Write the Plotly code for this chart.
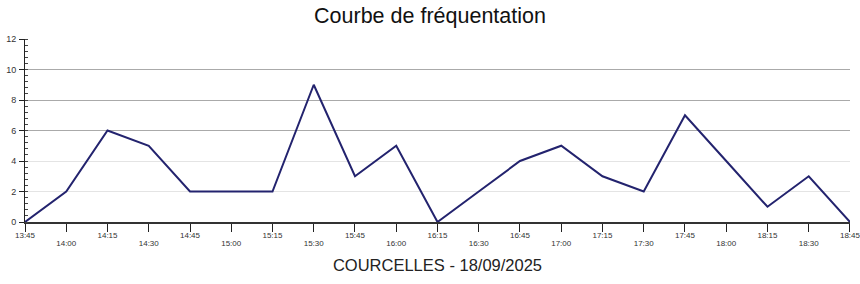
import plotly.graph_objects as go

times = ["13:45", "14:00", "14:15", "14:30", "14:45", "15:00", "15:15", "15:30",
         "15:45", "16:00", "16:15", "16:30", "16:45", "17:00", "17:15", "17:30",
         "17:45", "18:00", "18:15", "18:30", "18:45"]
visits = [0, 2, 6, 5, 2, 2, 2, 9, 3, 5, 0, 2, 4, 5, 3, 2, 7, 4, 1, 3, 0]
y_major = [0, 2, 4, 6, 8, 10, 12]
grid_light = [2, 4, 12]
grid_dark = [6, 8, 10]
title_text = "Courbe de fréquentation"
xlabel_text = "COURCELLES - 18/09/2025"

day = "2025-09-18 "
xs = [day + t for t in times]
odd_x = xs[1::2]
odd_t = times[1::2]
x_range = [xs[0], xs[-1] + ":00.5"]

font = "Liberation Sans, Arial, sans-serif"

fig = go.Figure()
fig.add_trace(go.Scatter(x=[xs[0]], y=[0], xaxis="x2", yaxis="y2", mode="markers",
                         marker=dict(opacity=0), hoverinfo="skip", showlegend=False))
fig.add_trace(go.Scatter(x=[xs[0]], y=[0], xaxis="x", yaxis="y3", mode="markers",
                         marker=dict(opacity=0), hoverinfo="skip", showlegend=False))
fig.add_trace(go.Scatter(x=xs, y=visits, mode="lines",
                         line=dict(color="#23236e", width=2),
                         hoverinfo="x+y", showlegend=False, cliponaxis=False))

fig.update_layout(
    width=860, height=284,
    margin=dict(l=25, r=10, t=39, b=62, autoexpand=False),
    paper_bgcolor="white", plot_bgcolor="white",
    title=dict(text=title_text, x=0.5, xanchor="center", y=0.972, yanchor="top",
               font=dict(family=font, size=21.5, color="#111")),
    font=dict(family=font, color="#333"),
    xaxis=dict(
        type="date", range=x_range, automargin=False,
        tickmode="array", tickvals=xs,
        ticktext=[t if i % 2 == 0 else "" for i, t in enumerate(times)],
        ticks="outside", ticklen=8, tickcolor="#222", tickwidth=1,
        showline=True, linecolor="#333", linewidth=1.5,
        showgrid=False, zeroline=False,
        tickfont=dict(size=8, color="#333"),
        ticklabelstandoff=-3,
        ticklabeloverflow="allow",
        title=dict(text=xlabel_text, font=dict(family=font, size=16.5, color="#222"),
                   standoff=20),
    ),
    xaxis2=dict(
        type="date", overlaying="x", matches="x", side="bottom",
        range=x_range, automargin=False,
        tickmode="array", tickvals=odd_x, ticktext=odd_t,
        ticks="", showline=False, showgrid=False, zeroline=False,
        tickfont=dict(size=8, color="#333"),
        ticklabelstandoff=15,
        ticklabeloverflow="allow",
    ),
    yaxis=dict(
        range=[0, 12], tickmode="array", tickvals=y_major, automargin=False,
        ticks="outside", ticklen=5, tickcolor="#222",
        showline=True, linecolor="#222", linewidth=1,
        showgrid=False, zeroline=False,
        tickfont=dict(size=9, color="#333"),
        ticklabelstandoff=1,
        minor=dict(dtick=0.4, ticks="inside", ticklen=3, tickcolor="#444",
                   showgrid=False),
    ),
    yaxis2=dict(
        range=[0, 12], overlaying="y", tickmode="array", tickvals=grid_light,
        showticklabels=False, ticks="", showgrid=True, gridcolor="#e4e4e4",
        gridwidth=1, zeroline=False, showline=False,
    ),
    yaxis3=dict(
        range=[0, 12], overlaying="y", tickmode="array", tickvals=grid_dark,
        showticklabels=False, ticks="", showgrid=True, gridcolor="#aaaaaa",
        gridwidth=1, zeroline=False, showline=False,
    ),
)

fig.write_html("out.html")
